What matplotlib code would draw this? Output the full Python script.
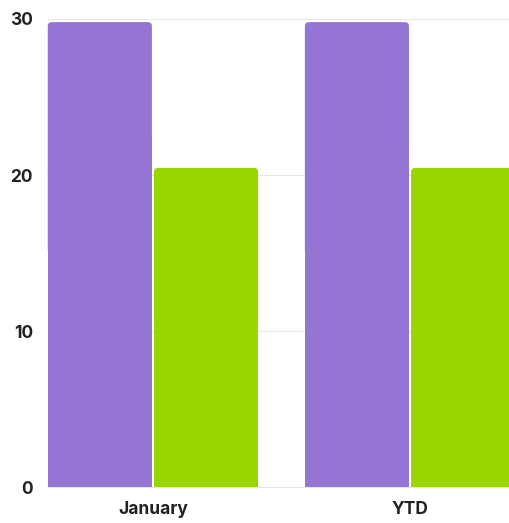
import matplotlib.pyplot as plt
import numpy as np
from matplotlib.patches import FancyBboxPatch

categories = ["January", "YTD"]
series_a = [29.8, 29.8]
series_b = [20.45, 20.45]
colors = ["#9575d3", "#98d600"]


def main():
    plt.rcParams['font.family'] = ['Inter', 'DejaVu Sans']
    fig = plt.figure(figsize=(5.09, 5.23), dpi=100)
    ax = fig.add_axes([47 / 509, 36 / 523, 462 / 509, 468 / 523])

    x = np.arange(len(categories))
    width = 0.405
    gap = 0.004
    bars_a = ax.bar(x - width / 2 - gap, series_a, width, color=colors[0])
    bars_b = ax.bar(x + width / 2 + gap, series_b, width, color=colors[1])

    ax.set_xlim(-0.412, 1.385)
    ax.set_ylim(0, 30)

    # 圆角柱子：用 FancyBboxPatch 替换原矩形
    px_x = 1 / 257.0
    px_y = 30 / 468.0
    r = 4 * px_x
    for bars in (bars_a, bars_b):
        for b in bars:
            bx, by = b.get_x(), b.get_y()
            bw, bh = b.get_width(), b.get_height()
            fc = b.get_facecolor()
            b.set_visible(False)
            top = FancyBboxPatch((bx, by + bh * 0.5), bw, bh * 0.5,
                                 boxstyle="round,pad=0,rounding_size=%f" % r,
                                 mutation_aspect=px_y / px_x,
                                 facecolor=fc, edgecolor="none", zorder=3)
            ax.add_patch(top)
            bottom = plt.Rectangle((bx, by), bw, bh * 0.75, facecolor=fc,
                                   edgecolor="none", zorder=3)
            ax.add_patch(bottom)

    ax.set_xticks(x)
    ax.set_xticklabels(categories, fontsize=12.5, fontweight='bold', color='#222222')
    ax.set_yticks([0, 10, 20, 30])
    ax.set_yticklabels(["0", "10", "20", "30"], fontsize=12.5, fontweight='bold', color='#222222')
    ax.tick_params(axis='both', length=0)
    ax.tick_params(axis='y', pad=10)
    ax.tick_params(axis='x', pad=10)

    ax.grid(axis='y', color='#e6e6e6', linewidth=0.8)
    ax.set_axisbelow(True)
    for s in ['top', 'right', 'left']:
        ax.spines[s].set_visible(False)
    ax.spines['bottom'].set_color('#e6e6e6')
    ax.spines['bottom'].set_zorder(0)

    plt.savefig("out.png", dpi=100)


if __name__ == '__main__':
    main()
